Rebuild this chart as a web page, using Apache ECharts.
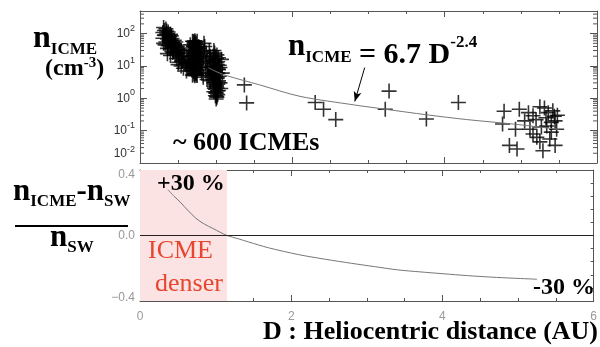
<!DOCTYPE html>
<html>
<head>
<meta charset="utf-8">
<script src="https://cdn.jsdelivr.net/npm/echarts@6/dist/echarts.min.js"></script>
<style>
  html, body { margin: 0; padding: 0; background: #fff; }
  #chart { width: 600px; height: 347px; }
</style>
</head>
<body>
<div id="chart"></div>
<script>
// ICME proton density (cm^-3) vs heliocentric distance D (AU)
var innerPts = [[0.30,108],[0.31,155],[0.30,72],[0.32,125],[0.33,88],[0.34,140],[0.34,55],[0.35,98],
  [0.36,68],[0.37,112],[0.37,42],[0.38,80],[0.39,58],[0.40,95],[0.40,34],[0.41,48],[0.42,70],[0.43,26],
  [0.43,52],[0.44,38],[0.45,62],[0.46,22],[0.46,44],[0.47,31],[0.48,17],[0.49,40],[0.50,25],[0.51,13],
  [0.52,33],[0.53,19],[0.54,10],[0.55,27],[0.56,15],[0.57,8.5],[0.58,21],[0.60,12],[0.61,7],[0.62,16],
  [0.36,24],[0.40,21],[0.44,28],[0.50,11],[0.31,50],[0.33,45],[0.32,90],[0.35,120],[0.38,60],[0.41,85],
  [0.42,40],[0.45,48],[0.47,55],[0.48,26],[0.51,36],[0.52,20],[0.54,30],[0.55,14],[0.57,24],[0.59,11],
  [0.63,9],[0.64,20],[0.65,13],[0.36,35]];
var venusPts = [[0.72,60],[0.70,57],[0.73,54],[0.71,50],[0.74,47],[0.72,44],[0.70,41],[0.73,38],[0.71,36],
  [0.74,33],[0.72,31],[0.70,29],[0.73,27],[0.71,25],[0.74,23],[0.72,21.5],[0.70,20],[0.73,18.5],[0.71,17],
  [0.74,16],[0.72,15],[0.70,14],[0.73,13],[0.71,12],[0.74,11.2],[0.72,10.4],[0.70,9.7],[0.73,9],[0.71,8.4],
  [0.74,7.8],[0.72,7.2],[0.70,6.7],[0.73,6.2],[0.71,5.7],[0.74,5.3],[0.72,5.0],[0.69,58],[0.75,58],
  [0.69,5.2],[0.75,5.1],[0.715,52],[0.725,46],[0.705,39],[0.735,35],[0.715,30],[0.725,26],[0.705,22],
  [0.735,19.5],[0.715,16.5],[0.725,14.5],[0.705,12.5],[0.735,10.8],[0.715,9.3],[0.725,8],[0.705,7],
  [0.735,6],[0.715,5.5],[0.68,30],[0.76,20],[0.67,12],[0.77,9],[0.66,45],[0.77,40],[0.68,7.5]];
var bridgePts = [[0.78,35],[0.80,22],[0.82,12],[0.84,28],[0.86,7],[0.88,16],[0.80,9],[0.85,40],[0.90,5],
  [0.79,14],[0.83,18],[0.87,25],[0.81,6],[0.89,9],[0.86,13],[0.83,4.5],[0.91,30],[0.88,3.8],[0.84,50],[0.92,7.5]];
var earthPts = [[0.98,25],[1.01,22],[0.96,20],[1.03,18],[0.99,16.5],[0.97,15],[1.02,13.5],[1.00,12.5],
  [0.95,11.5],[1.04,10.5],[0.98,9.8],[1.01,9],[0.96,8.3],[1.03,7.7],[0.99,7.1],[0.97,6.6],[1.02,6.1],
  [1.00,5.6],[0.95,5.2],[1.04,4.8],[0.98,4.4],[1.01,4.1],[0.96,3.8],[1.03,3.5],[0.99,3.2],[0.97,3.0],
  [1.02,2.75],[1.00,2.5],[0.98,2.3],[1.01,2.1],[0.99,1.9],[1.03,1.75],[0.97,1.6],[1.00,1.45],[1.02,1.3],
  [0.99,1.2],[1.01,1.08],[1.00,0.95],[0.93,14],[0.94,6],[1.05,9],[1.05,3],[0.97,30],
  [0.985,20],[1.005,17],[0.975,14],[1.015,11],[0.965,9.5],[1.025,8],[0.985,6.9],[1.005,5.9],[0.975,5],
  [1.015,4.3],[0.965,3.7],[1.025,3.2],[0.985,2.7],[1.005,2.35],[0.975,2.05],[1.015,1.7],[0.995,1.5],
  [1.005,1.15],[0.92,20],[1.07,16],[0.91,10],[1.08,6],[0.92,3.5],[1.06,2]];
var midPts = [[1.37,2.6],[1.40,0.72],[2.30,0.74],[2.41,0.46],[2.57,0.22],[3.27,1.67],[3.22,0.46],[3.76,0.23],[4.18,0.74]];
var outerPts = [[4.78,0.40],[4.98,0.46],[4.76,0.16],[4.93,0.11],[4.85,0.035],[4.95,0.027],[5.10,0.36],
  [5.16,0.29],[5.25,0.55],[5.12,0.11],[5.21,0.062],[5.25,0.045],[5.29,0.024],[5.36,0.36],[5.40,0.18],
  [5.42,0.41],[5.40,0.09],[5.45,0.035],[5.34,0.14],[5.31,0.5],[5.16,0.079],[5.45,0.2],[5.47,0.11],
  [5.20,0.22],[5.33,0.25],[5.44,0.28],[5.38,0.055],[5.48,0.3],[5.05,0.2],[5.27,0.13]];

// fit line n = 6.7 D^-2.4, visible part as drawn
var fitD = [0.90, 1.00, 1.14, 1.57, 2.10, 2.82, 3.22, 3.76, 4.29, 4.90, 5.50];
var fitN = [8.8, 6.7, 5.0, 2.6, 1.15, 0.62, 0.46, 0.31, 0.22, 0.16, 0.11];

// (nICME - nSW) / nSW
var ratioD = [0.37, 0.45, 0.53, 0.64, 0.74, 0.85, 0.96, 1.06, 1.15, 1.30, 1.44, 1.70, 2.10, 2.45, 2.80,
  3.10, 3.41, 3.70, 4.02, 4.33, 4.64, 4.95, 5.25];
var ratioV = [0.28, 0.24, 0.205, 0.15, 0.105, 0.07, 0.044, 0.02, 0, -0.02, -0.04, -0.075, -0.117, -0.145,
  -0.17, -0.19, -0.21, -0.222, -0.234, -0.245, -0.254, -0.261, -0.267];
var denserEdge = 1.15;

// log minor ticks
var logMinor = [0.02,0.03,0.04,0.05,0.06,0.07,0.08,0.09,0.2,0.3,0.4,0.5,0.6,0.7,0.8,0.9,
  2,3,4,5,6,7,8,9,20,30,40,50,60,70,80,90,200,300,400];

var SERIF = '"Liberation Serif", "Times New Roman", serif';
var SANS = '"Liberation Sans", Helvetica, Arial, sans-serif';
var AX = '#555';

function zip(xs, ys) { return xs.map(function (x, i) { return [x, ys[i]]; }); }

// every piece top aligned; top padding puts its baseline on p.base
function richText(x, top, parts, color) {
  var rich = {}, text = '';
  parts.forEach(function (p, i) {
    var key = 't' + i;
    var pad = Math.max(0, p.base - top - 0.8375 * p.size);
    rich[key] = {
      fontFamily: SERIF, fontSize: p.size, fontWeight: p.bold === false ? 'normal' : 'bold',
      padding: [pad, 0, 0, 0], verticalAlign: 'top', fill: color || '#000'
    };
    text += '{' + key + '|' + p.text + '}';
  });
  return { type: 'text', x: x, y: top, z: 100,
    style: { text: text, rich: rich, verticalAlign: 'top', align: 'left', fill: color || '#000' } };
}

function xAx(grid, pos, labels) {
  return {
    type: 'value', gridIndex: grid, position: pos, min: 0, max: 6, interval: 2,
    axisLine: { show: true, onZero: false, lineStyle: { color: AX, width: 1 } },
    axisTick: { show: true, inside: true, length: 6, lineStyle: { color: AX } },
    minorTick: { show: true, splitNumber: 4, length: 3, lineStyle: { color: AX } },
    splitLine: { show: false },
    axisLabel: labels ? { show: true, color: '#999', fontFamily: SANS, fontSize: 12, margin: 10 } : { show: false }
  };
}

function logAx(pos, labels) {
  return {
    type: 'log', logBase: 10, gridIndex: 0, position: pos, min: 0.01, max: 500,
    axisLine: { show: true, onZero: false, lineStyle: { color: AX, width: 1 } },
    axisTick: { show: true, inside: true, length: 7, lineStyle: { color: AX } },
    splitLine: { show: false },
    axisLabel: labels ? {
      show: true, margin: 5, showMaxLabel: false,
      formatter: function (v) {
        var e = Math.log(v) / Math.LN10, r = Math.round(e);
        if (Math.abs(e - r) > 1e-6) return '';
        if (r === -2) return '{sp| }{b2|10}{s|-2}';
        return '{b|10}{s|' + r + '}';
      },
      rich: {
        b: { fontFamily: SANS, fontSize: 12, color: '#333', lineHeight: 20, verticalAlign: 'middle' },
        s: { fontFamily: SANS, fontSize: 9, color: '#333', verticalAlign: 'top' },
        sp: { fontSize: 1, lineHeight: 36, verticalAlign: 'top' },
        b2: { fontFamily: SANS, fontSize: 12, color: '#333', padding: [2.5, 0, 0, 0], verticalAlign: 'top' }
      }
    } : { show: false }
  };
}

function ratioAx(pos, labels) {
  return {
    type: 'value', gridIndex: 1, position: pos, min: -0.4, max: 0.4, interval: 0.4,
    axisLine: { show: true, onZero: false, lineStyle: { color: AX, width: 1 } },
    axisTick: { show: true, inside: true, length: 6, lineStyle: { color: AX } },
    minorTick: { show: true, splitNumber: 5, length: 3, lineStyle: { color: AX } },
    splitLine: { show: false },
    axisLabel: labels ? {
      show: true, color: '#999', fontFamily: SANS, fontSize: 12, margin: 5,
      formatter: function (v) {
        if (Math.abs(v) < 1e-9) return '0.0';
        return v > 0 ? '{hi|' + v.toFixed(1) + '}' : '{lo|\u2212' + Math.abs(v).toFixed(1) + '}';
      },
      rich: {
        hi: { color: '#999', fontFamily: SANS, fontSize: 12, padding: [10, 0, 0, 0] },
        lo: { color: '#999', fontFamily: SANS, fontSize: 12, padding: [0, 0, 6, 0] }
      }
    } : { show: false }
  };
}

var crosses = innerPts.concat(venusPts, bridgePts, earthPts, midPts, outerPts);
var PLUS = 'path://M0,6.7h15v1.6h-15z M6.7,0h1.6v15h-1.6z';
var RED = '#e8452f';

var chart = echarts.init(document.getElementById('chart'));
chart.setOption({
  animation: false,
  backgroundColor: '#fff',
  grid: [
    { left: 140, right: 3, top: 11, height: 152 },
    { left: 140, right: 3, top: 170, height: 131 }
  ],
  xAxis: [xAx(0, 'bottom', false), xAx(0, 'top', false), xAx(1, 'bottom', true), xAx(1, 'top', false)],
  yAxis: [logAx('left', true), logAx('right', false), ratioAx('left', true), ratioAx('right', false)],
  series: [
    {
      type: 'custom', xAxisIndex: 0, yAxisIndex: 0, silent: true, clip: false,
      encode: { x: 0, y: 1 },
      data: logMinor.map(function (v) { return [0, v]; }),
      renderItem: function (params, api) {
        var v = api.value(1);
        var l = api.coord([0, v]), r = api.coord([6, v]);
        return { type: 'group', children: [
          { type: 'line', shape: { x1: l[0], y1: l[1], x2: l[0] + 4, y2: l[1] }, style: { stroke: AX, lineWidth: 1 } },
          { type: 'line', shape: { x1: r[0], y1: r[1], x2: r[0] - 4, y2: r[1] }, style: { stroke: AX, lineWidth: 1 } }
        ] };
      }
    },
    {
      type: 'line', xAxisIndex: 0, yAxisIndex: 0, data: zip(fitD, fitN),
      showSymbol: false, smooth: 0.3, silent: true,
      lineStyle: { color: '#777', width: 1 },
      markLine: {
        silent: true, symbol: ['none', 'arrow'], symbolSize: [6, 10],
        lineStyle: { color: '#000', width: 1, type: 'solid' }, label: { show: false },
        data: [[{ coord: [2.95, 8.9] }, { coord: [2.82, 0.8] }]]
      }
    },
    {
      type: 'scatter', xAxisIndex: 0, yAxisIndex: 0, data: crosses,
      symbol: PLUS, symbolSize: 15, silent: true,
      itemStyle: { color: '#000' }
    },
    {
      type: 'line', xAxisIndex: 2, yAxisIndex: 2, data: zip(ratioD, ratioV),
      showSymbol: false, smooth: 0.3, silent: true,
      lineStyle: { color: '#777', width: 1 },
      markLine: {
        silent: true, symbol: 'none', label: { show: false },
        lineStyle: { color: '#222', width: 1, type: 'solid' },
        data: [{ yAxis: 0 }]
      },
      markArea: {
        silent: true, itemStyle: { color: '#fbe3e3' },
        data: [[{ xAxis: 0 }, { xAxis: denserEdge }]]
      }
    }
  ],
  graphic: { elements: [
    richText(33, 15, [{ text: 'n', size: 32, base: 50 }, { text: 'ICME', size: 17, base: 55 }]),
    richText(45, 50, [{ text: '(cm', size: 24, base: 77 }, { text: '-3', size: 15, base: 68 }, { text: ')', size: 24, base: 77 }]),
    richText(288, 20, [{ text: 'n', size: 31, base: 57 }, { text: 'ICME', size: 17, base: 63 },
      { text: ' = 6.7 D', size: 30, base: 65 }, { text: '-2.4', size: 17, base: 48 }]),
    richText(173, 120, [{ text: '~ 600 ICMEs', size: 26, base: 152 }]),
    richText(13, 170, [{ text: 'n', size: 31, base: 202 }, { text: 'ICME', size: 17, base: 207 },
      { text: '-', size: 31, base: 202 }, { text: 'n', size: 31, base: 202 }, { text: 'SW', size: 17, base: 207 }]),
    { type: 'rect', z: 100, shape: { x: 15, y: 225, width: 113, height: 2 }, style: { fill: '#000' } },
    richText(50, 220, [{ text: 'n', size: 31, base: 248 }, { text: 'SW', size: 17, base: 253 }]),
    richText(157, 170, [{ text: '+30 %', size: 24, base: 192 }]),
    richText(148, 230, [{ text: 'ICME', size: 26, base: 260, bold: false }], RED),
    richText(155, 265, [{ text: 'denser', size: 26, base: 293, bold: false }], RED),
    richText(533, 275, [{ text: '-30 %', size: 24, base: 296 }]),
    richText(263, 315, [{ text: 'D : Heliocentric distance (AU)', size: 26, base: 341 }])
  ] }
});
</script>
</body>
</html>
